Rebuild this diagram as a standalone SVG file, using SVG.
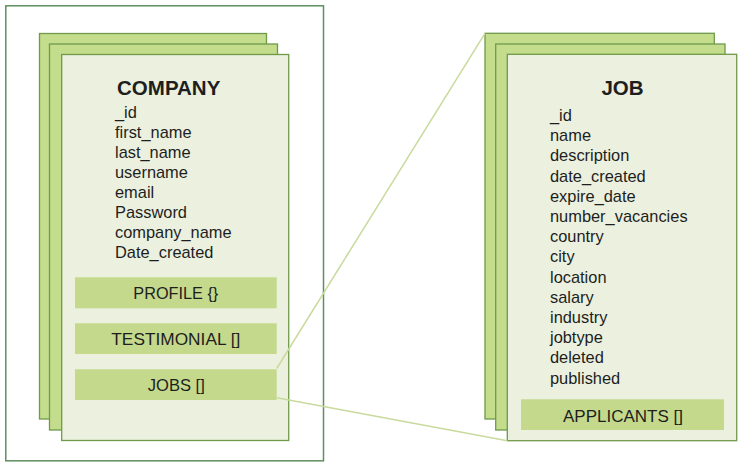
<svg xmlns="http://www.w3.org/2000/svg" width="741" height="466" viewBox="0 0 741 466">
<style>
.outer{fill:#ffffff;stroke:#5f8f5f;stroke-width:1.5}
.back{fill:#c4dd8c;stroke:#6f9a4a;stroke-width:1.3}
.front{fill:#ebf1de;stroke:#6f9a4a;stroke-width:1.3}
.band{fill:#c4d98c}
.title{font-family:"Liberation Sans",Arial,sans-serif;font-weight:bold;font-size:20.5px;fill:#1e1e1e;text-anchor:middle}
.field{font-family:"Liberation Sans",Arial,sans-serif;font-size:16.4px;fill:#1e1e1e}
.blabel{font-family:"Liberation Sans",Arial,sans-serif;font-size:17px;fill:#1e1e1e;text-anchor:middle}
.conn{fill:none;stroke:#c8da9c;stroke-width:1.5}
</style>
<rect x="0" y="0" width="741" height="466" fill="#ffffff"/>
<rect class="outer" x="5.8" y="5.8" width="317.7" height="455"/>
<g id="company">
<rect class="back" x="39.5" y="33.5" width="227" height="385.5"/>
<rect class="back" x="49.5" y="44" width="228" height="386"/>
<rect class="front" x="61.7" y="54.5" width="227" height="386"/>
<text class="title" x="168.7" y="95">COMPANY</text>
<text class="field" x="115" y="118.3">_id</text>
<text class="field" x="115" y="138.3">first_name</text>
<text class="field" x="115" y="158.3">last_name</text>
<text class="field" x="115" y="178.3">username</text>
<text class="field" x="115" y="198.3">email</text>
<text class="field" x="115" y="218.3">Password</text>
<text class="field" x="115" y="238.3">company_name</text>
<text class="field" x="115" y="258.3">Date_created</text>
<g id="profile"><rect class="band" x="75" y="277.3" width="201.7" height="31"/><text class="blabel" x="175.8" y="298.8" textLength="85" lengthAdjust="spacingAndGlyphs">PROFILE {}</text></g>
<g id="testimonial"><rect class="band" x="75" y="323.3" width="201.7" height="30.7"/><text class="blabel" x="175.8" y="344.8" textLength="129" lengthAdjust="spacingAndGlyphs">TESTIMONIAL []</text></g>
<g id="jobs"><rect class="band" x="75" y="369.3" width="201.7" height="30.7"/><text class="blabel" x="176.3" y="391" textLength="57" lengthAdjust="spacingAndGlyphs">JOBS []</text></g>
</g>
<g id="job">
<rect class="back" x="485" y="33.3" width="229.3" height="385.7"/>
<rect class="back" x="495.7" y="44" width="229.3" height="386"/>
<rect class="front" x="507.3" y="54.3" width="229.4" height="386.4"/>
<text class="title" x="622.5" y="95">JOB</text>
<text class="field" x="550" y="121">_id</text>
<text class="field" x="550" y="141.2">name</text>
<text class="field" x="550" y="161.4">description</text>
<text class="field" x="550" y="181.6">date_created</text>
<text class="field" x="550" y="201.8">expire_date</text>
<text class="field" x="550" y="222">number_vacancies</text>
<text class="field" x="550" y="242.2">country</text>
<text class="field" x="550" y="262.4">city</text>
<text class="field" x="550" y="282.6">location</text>
<text class="field" x="550" y="302.8">salary</text>
<text class="field" x="550" y="323">industry</text>
<text class="field" x="550" y="343.2">jobtype</text>
<text class="field" x="550" y="363.4">deleted</text>
<text class="field" x="550" y="383.6">published</text>
<g id="applicants"><rect class="band" x="521" y="399.3" width="203" height="30.7"/><text class="blabel" x="623" y="421.7" textLength="120" lengthAdjust="spacingAndGlyphs">APPLICANTS []</text></g>
</g>
<g id="connectors">
<line class="conn" x1="276.7" y1="368.5" x2="485" y2="33.3"/>
<line class="conn" x1="276.7" y1="397.7" x2="507.3" y2="440.7"/>
</g>
</svg>
